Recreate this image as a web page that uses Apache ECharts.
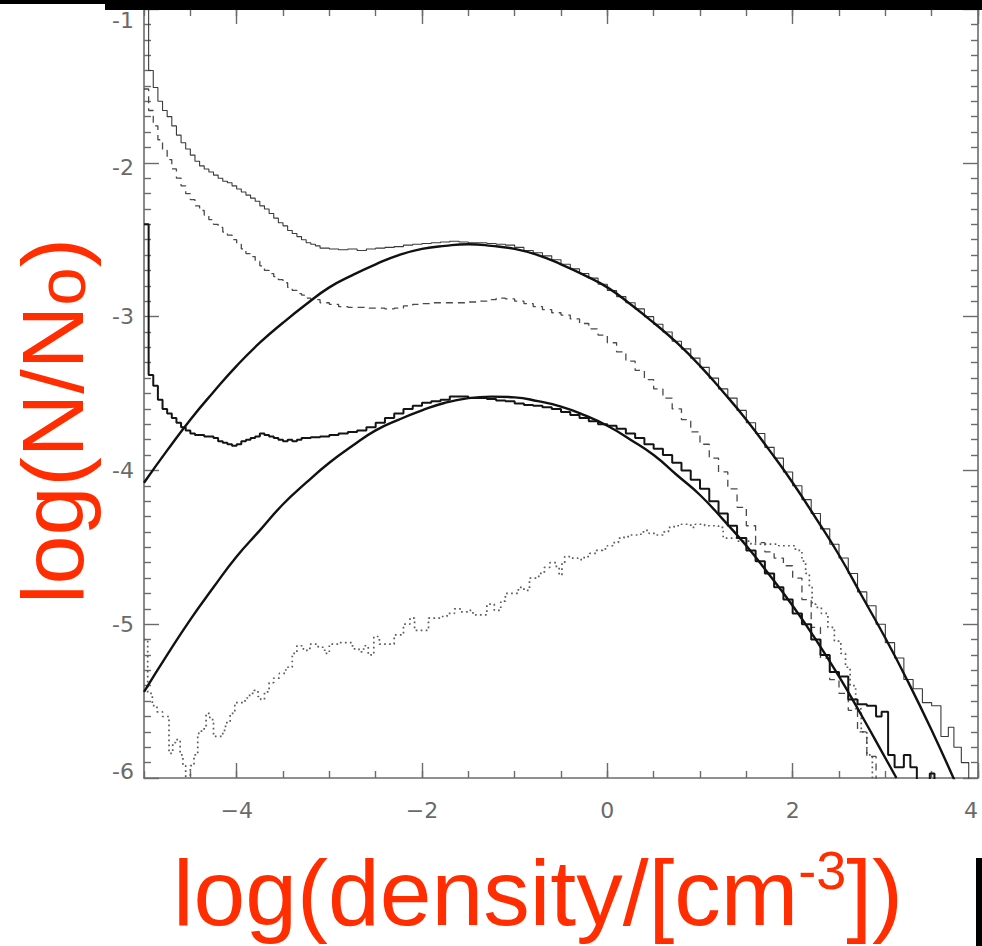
<!DOCTYPE html>
<html>
<head>
<meta charset="utf-8">
<script src="https://cdn.jsdelivr.net/npm/echarts@6/dist/echarts.min.js"></script>
<style>
  html, body { margin: 0; padding: 0; background: #ffffff; }
  #chart { width: 982px; height: 946px; }
</style>
</head>
<body>
<div id="chart"></div>
<script>
// Density PDFs in log space: bins are [left edge, log(N/N0)], last pair closes the final bin.
const totalHist = [
  [-5.00,-0.90],[-4.95,-1.40],[-4.90,-1.51],[-4.85,-1.60],[-4.80,-1.66],[-4.75,-1.70],[-4.70,-1.76],
  [-4.65,-1.82],[-4.60,-1.87],[-4.55,-1.91],[-4.50,-1.95],[-4.45,-1.99],[-4.40,-2.02],[-4.35,-2.04],
  [-4.30,-2.06],[-4.25,-2.08],[-4.20,-2.10],[-4.15,-2.12],[-4.10,-2.13],[-4.05,-2.15],[-4.00,-2.17],
  [-3.95,-2.19],[-3.90,-2.21],[-3.85,-2.23],[-3.80,-2.25],[-3.75,-2.28],[-3.70,-2.30],[-3.65,-2.33],
  [-3.60,-2.36],[-3.55,-2.39],[-3.50,-2.41],[-3.45,-2.44],[-3.40,-2.46],[-3.35,-2.48],[-3.30,-2.50],
  [-3.25,-2.52],[-3.20,-2.53],[-3.15,-2.54],[-3.10,-2.555],[-3.00,-2.56],[-2.90,-2.565],[-2.80,-2.56],
  [-2.70,-2.57],[-2.60,-2.56],[-2.50,-2.555],[-2.40,-2.55],[-2.30,-2.545],[-2.20,-2.535],[-2.10,-2.53],
  [-2.00,-2.525],[-1.90,-2.52],[-1.80,-2.515],[-1.70,-2.51],[-1.60,-2.515],[-1.50,-2.52],[-1.40,-2.52],
  [-1.30,-2.525],[-1.20,-2.53],[-1.10,-2.535],[-1.00,-2.55],[-0.90,-2.57],[-0.80,-2.585],[-0.70,-2.605],
  [-0.60,-2.63],[-0.50,-2.66],[-0.40,-2.69],[-0.30,-2.72],[-0.20,-2.75],[-0.10,-2.79],[0.00,-2.83],
  [0.10,-2.87],[0.20,-2.91],[0.30,-2.95],[0.40,-3.00],[0.50,-3.05],[0.60,-3.10],[0.70,-3.16],
  [0.80,-3.21],[0.90,-3.27],[1.00,-3.33],[1.10,-3.40],[1.20,-3.47],[1.30,-3.53],[1.40,-3.61],
  [1.50,-3.69],[1.60,-3.76],[1.70,-3.85],[1.80,-3.92],[1.90,-4.01],[2.00,-4.10],[2.10,-4.19],
  [2.20,-4.28],[2.30,-4.38],[2.40,-4.48],[2.50,-4.57],[2.60,-4.67],[2.70,-4.79],[2.80,-4.88],
  [2.90,-5.00],[3.00,-5.12],[3.10,-5.22],[3.20,-5.36],[3.30,-5.42],[3.40,-5.51],[3.50,-5.53],
  [3.60,-5.73],[3.68,-5.67],[3.74,-5.80],[3.82,-5.90],[3.90,-6.20],[4.00,-6.20]
];

const dashedHist = [
  [-5.00,-1.52],[-4.95,-1.66],[-4.90,-1.76],[-4.85,-1.85],[-4.80,-1.92],[-4.75,-1.98],[-4.70,-2.04],
  [-4.65,-2.10],[-4.60,-2.15],[-4.55,-2.20],[-4.50,-2.24],[-4.45,-2.28],[-4.40,-2.31],[-4.35,-2.34],
  [-4.30,-2.37],[-4.25,-2.40],[-4.20,-2.42],[-4.15,-2.45],[-4.10,-2.47],[-4.05,-2.50],[-4.00,-2.53],
  [-3.95,-2.56],[-3.90,-2.59],[-3.85,-2.61],[-3.80,-2.64],[-3.75,-2.67],[-3.70,-2.70],[-3.65,-2.72],
  [-3.60,-2.74],[-3.55,-2.76],[-3.50,-2.78],[-3.45,-2.81],[-3.40,-2.83],[-3.35,-2.85],[-3.30,-2.86],
  [-3.25,-2.88],[-3.20,-2.89],[-3.10,-2.91],[-3.00,-2.92],[-2.90,-2.935],[-2.80,-2.94],[-2.70,-2.94],
  [-2.60,-2.945],[-2.50,-2.945],[-2.40,-2.95],[-2.30,-2.945],[-2.20,-2.93],[-2.10,-2.92],[-2.00,-2.915],
  [-1.90,-2.91],[-1.80,-2.91],[-1.70,-2.91],[-1.60,-2.91],[-1.50,-2.905],[-1.40,-2.90],[-1.30,-2.89],
  [-1.20,-2.88],[-1.10,-2.885],[-1.00,-2.90],[-0.90,-2.915],[-0.80,-2.935],[-0.70,-2.955],[-0.60,-2.975],
  [-0.50,-2.99],[-0.40,-3.015],[-0.30,-3.045],[-0.20,-3.08],[-0.10,-3.12],[0.00,-3.17],[0.10,-3.23],
  [0.20,-3.29],[0.30,-3.35],[0.40,-3.41],[0.50,-3.47],[0.60,-3.53],[0.70,-3.60],[0.80,-3.67],
  [0.90,-3.75],[1.00,-3.83],[1.10,-3.92],[1.20,-4.01],[1.30,-4.12],[1.40,-4.24],[1.50,-4.36],
  [1.60,-4.47],[1.70,-4.53],[1.80,-4.57],[1.90,-4.62],[2.00,-4.70],[2.10,-4.84],[2.20,-5.02],
  [2.30,-5.22],[2.40,-5.36],[2.50,-5.45],[2.60,-5.56],[2.70,-5.70],[2.80,-5.86],[2.90,-6.20],[3.00,-6.20]
];

const thickHist = [
  [-5.00,-2.40],[-4.95,-3.38],[-4.90,-3.45],[-4.85,-3.54],[-4.80,-3.60],[-4.75,-3.63],[-4.70,-3.66],
  [-4.65,-3.69],[-4.60,-3.72],[-4.55,-3.74],[-4.50,-3.76],[-4.45,-3.77],[-4.40,-3.77],[-4.35,-3.78],
  [-4.30,-3.78],[-4.25,-3.79],[-4.20,-3.81],[-4.15,-3.82],[-4.10,-3.83],[-4.05,-3.84],[-4.00,-3.83],
  [-3.95,-3.81],[-3.90,-3.80],[-3.85,-3.79],[-3.80,-3.78],[-3.75,-3.76],[-3.70,-3.77],[-3.65,-3.78],
  [-3.60,-3.79],[-3.55,-3.80],[-3.50,-3.81],[-3.45,-3.80],[-3.40,-3.81],[-3.35,-3.80],[-3.30,-3.79],
  [-3.20,-3.785],[-3.10,-3.78],[-3.00,-3.77],[-2.90,-3.76],[-2.80,-3.75],[-2.70,-3.74],[-2.60,-3.72],
  [-2.50,-3.69],[-2.40,-3.66],[-2.30,-3.63],[-2.20,-3.60],[-2.10,-3.58],[-2.00,-3.56],[-1.90,-3.55],
  [-1.80,-3.54],[-1.70,-3.52],[-1.60,-3.52],[-1.50,-3.53],[-1.40,-3.53],[-1.30,-3.535],[-1.20,-3.545],
  [-1.10,-3.55],[-1.00,-3.565],[-0.90,-3.575],[-0.80,-3.58],[-0.70,-3.59],[-0.60,-3.60],[-0.50,-3.62],
  [-0.40,-3.64],[-0.30,-3.66],[-0.20,-3.68],[-0.10,-3.70],[0.00,-3.71],[0.10,-3.73],[0.20,-3.76],
  [0.30,-3.79],[0.40,-3.83],[0.50,-3.86],[0.60,-3.90],[0.70,-3.95],[0.80,-4.00],[0.90,-4.06],
  [1.00,-4.12],[1.10,-4.20],[1.20,-4.28],[1.30,-4.36],[1.40,-4.44],[1.50,-4.52],[1.60,-4.59],
  [1.70,-4.67],[1.80,-4.76],[1.90,-4.84],[2.00,-4.93],[2.10,-5.00],[2.20,-5.10],[2.30,-5.20],
  [2.40,-5.31],[2.50,-5.34],[2.60,-5.49],[2.70,-5.52],[2.80,-5.53],[2.90,-5.60],[2.96,-5.57],
  [3.03,-5.85],[3.10,-5.93],[3.20,-5.85],[3.27,-5.93],[3.34,-6.20],[3.48,-5.97],[3.53,-6.20],[3.60,-6.20]
];

const dottedHist = [
  [-5.00,-5.10],[-4.96,-5.45],[-4.91,-5.53],[-4.86,-5.57],[-4.80,-5.60],[-4.73,-5.84],[-4.69,-5.77],
  [-4.66,-5.75],[-4.61,-5.85],[-4.58,-5.92],[-4.55,-6.05],[-4.50,-5.92],[-4.46,-5.85],[-4.42,-5.71],
  [-4.38,-5.68],[-4.33,-5.58],[-4.29,-5.62],[-4.25,-5.73],[-4.15,-5.69],[-4.12,-5.64],[-4.07,-5.58],
  [-4.02,-5.51],[-3.91,-5.48],[-3.86,-5.45],[-3.81,-5.43],[-3.77,-5.47],[-3.74,-5.49],[-3.70,-5.44],
  [-3.65,-5.38],[-3.60,-5.35],[-3.54,-5.32],[-3.47,-5.28],[-3.40,-5.19],[-3.35,-5.14],[-3.28,-5.17],
  [-3.21,-5.13],[-3.12,-5.15],[-3.05,-5.19],[-3.00,-5.13],[-2.90,-5.12],[-2.80,-5.12],[-2.75,-5.16],
  [-2.68,-5.18],[-2.63,-5.14],[-2.58,-5.20],[-2.52,-5.08],[-2.46,-5.13],[-2.30,-5.07],[-2.20,-5.00],
  [-2.13,-4.96],[-2.08,-5.04],[-1.93,-4.96],[-1.80,-4.95],[-1.73,-4.93],[-1.65,-4.90],[-1.58,-4.92],
  [-1.50,-4.91],[-1.45,-4.94],[-1.30,-4.87],[-1.22,-4.91],[-1.15,-4.85],[-1.10,-4.80],[-0.96,-4.76],
  [-0.90,-4.78],[-0.84,-4.70],[-0.74,-4.67],[-0.68,-4.63],[-0.62,-4.60],[-0.55,-4.63],[-0.52,-4.68],
  [-0.49,-4.60],[-0.46,-4.56],[-0.40,-4.57],[-0.32,-4.58],[-0.25,-4.56],[-0.19,-4.54],[-0.12,-4.52],
  [-0.05,-4.51],[0.00,-4.49],[0.06,-4.47],[0.12,-4.44],[0.18,-4.43],[0.25,-4.42],[0.33,-4.415],
  [0.39,-4.39],[0.45,-4.41],[0.52,-4.42],[0.60,-4.40],[0.66,-4.37],[0.72,-4.36],[0.80,-4.35],
  [0.90,-4.37],[0.95,-4.35],[1.05,-4.36],[1.20,-4.37],[1.25,-4.44],[1.40,-4.46],[1.55,-4.48],
  [1.70,-4.48],[1.85,-4.49],[2.03,-4.52],[2.10,-4.59],[2.14,-4.67],[2.18,-4.76],[2.21,-4.87],
  [2.25,-4.89],[2.31,-4.93],[2.38,-5.02],[2.45,-5.11],[2.52,-5.19],[2.57,-5.28],[2.62,-5.40],
  [2.68,-5.55],[2.74,-5.70],[2.80,-5.85],[2.86,-6.10],[2.90,-6.10]
];

// Lognormal fits (parabolas in log-log space), sampled along the curves
const upperFit = [
  [-5,-4.08],[-4.75,-3.87],[-4.5,-3.67],[-4.25,-3.49],[-4,-3.32],[-3.75,-3.17],[-3.5,-3.04],
  [-3.25,-2.92],[-3,-2.81],[-2.75,-2.73],[-2.5,-2.66],[-2.25,-2.60],[-2,-2.56],[-1.75,-2.54],
  [-1.5,-2.53],[-1.25,-2.54],[-1,-2.56],[-0.75,-2.60],[-0.5,-2.66],[-0.25,-2.73],[0,-2.81],
  [0.25,-2.92],[0.5,-3.04],[0.75,-3.17],[1,-3.32],[1.25,-3.49],[1.5,-3.67],[1.75,-3.87],
  [2,-4.08],[2.25,-4.31],[2.5,-4.55],[2.75,-4.82],[3,-5.09],[3.25,-5.38],[3.5,-5.69],[3.75,-6.02]
];
const lowerFit = [
  [-5,-5.44],[-4.75,-5.20],[-4.5,-4.97],[-4.25,-4.76],[-4,-4.56],[-3.75,-4.39],[-3.5,-4.22],
  [-3.25,-4.08],[-3,-3.95],[-2.75,-3.84],[-2.5,-3.74],[-2.25,-3.67],[-2,-3.61],[-1.75,-3.56],
  [-1.5,-3.53],[-1.25,-3.52],[-1,-3.525],[-0.75,-3.55],[-0.5,-3.585],[-0.25,-3.64],[0,-3.71],
  [0.25,-3.80],[0.5,-3.90],[0.75,-4.03],[1,-4.16],[1.25,-4.32],[1.5,-4.49],[1.75,-4.68],
  [2,-4.88],[2.25,-5.10],[2.5,-5.34],[2.75,-5.60],[3,-5.87],[3.12,-6.0]
];

const xMajorTicks = [-4, -2, 0, 2, 4];
const xTickLabels = ['\u22124', '\u22122', '0', '2', '4'];
const yMajorTicks = [-6, -5, -4, -3, -2, -1];
const yTickLabels = ['-6', '-5', '-4', '-3', '-2', '-1'];

const axisGrey = '#6b6b6b';
const labelGrey = '#6a6a6a';
const titleRed = '#ff2d00';
const tickFont = '"DejaVu Sans", "Liberation Sans", sans-serif';
const titleFont = '"Liberation Sans", Arial, sans-serif';
const tickSize = 22;

function xAxesAt(position) {
  return [
    {
      type: 'value', min: -5, max: 4, interval: 0.5, position,
      axisLine: { show: true, onZero: false, lineStyle: { color: axisGrey, width: 1.6 } },
      axisTick: { show: true, inside: true, length: 7, lineStyle: { color: axisGrey, width: 1.4 } },
      axisLabel: { show: false },
      splitLine: { show: false }
    },
    {
      type: 'value', min: -5, max: 4, interval: 0.5, position,
      axisLine: { show: false, onZero: false },
      axisTick: { show: true, inside: true, length: 15, customValues: xMajorTicks,
                  lineStyle: { color: axisGrey, width: 1.4 } },
      axisLabel: {
        show: position === 'bottom', customValues: xMajorTicks, margin: 21,
        fontSize: tickSize, fontFamily: tickFont, color: labelGrey, alignMaxLabel: 'right',
        formatter: v => xTickLabels[xMajorTicks.indexOf(Math.round(v))]
      },
      splitLine: { show: false }
    }
  ];
}

function yAxisAt(position) {
  const rich = (pad) => ({ fontSize: tickSize, fontFamily: tickFont, color: labelGrey, padding: pad });
  return {
    type: 'value', min: -6, max: -1, interval: 1, position,
    axisLine: { show: true, onZero: false, lineStyle: { color: axisGrey, width: 1.6 } },
    axisTick: { show: true, inside: true, length: 15, lineStyle: { color: axisGrey, width: 1.4 } },
    minorTick: { show: true, splitNumber: 10, length: 7, lineStyle: { color: axisGrey, width: 1.4 } },
    axisLabel: {
      show: position === 'left', margin: 10, fontSize: tickSize, fontFamily: tickFont, color: labelGrey,
      formatter: v => {
        const t = yTickLabels[yMajorTicks.indexOf(Math.round(v))];
        if (v === -1) return '{lo|' + t + '}';
        if (v === -6) return '{hi|' + t + '}';
        if (v === -2) return '{dn|' + t + '}';
        return t;
      },
      rich: { lo: rich([22, 0, 0, 0]), hi: rich([0, 0, 14, 0]), dn: rich([10, 0, 0, 0]) }
    },
    splitLine: { show: false },
    minorSplitLine: { show: false }
  };
}

function histSeries(data, style, z) {
  return {
    type: 'line', xAxisIndex: 0, yAxisIndex: 0, data, step: 'end',
    showSymbol: false, symbol: 'none', clip: true, z,
    lineStyle: style, emphasis: { disabled: true }
  };
}

function fitSeries(data) {
  return {
    type: 'line', xAxisIndex: 0, yAxisIndex: 0, data, smooth: true,
    showSymbol: false, symbol: 'none', clip: true, z: 6,
    lineStyle: { color: '#111111', width: 2.4 }, emphasis: { disabled: true }
  };
}

const chart = echarts.init(document.getElementById('chart'), null, { renderer: 'svg' });

chart.setOption({
  animation: false,
  backgroundColor: '#ffffff',
  grid: { left: 144, right: 4, top: 9, bottom: 168, containLabel: false, outerBoundsMode: 'none' },
  xAxis: [...xAxesAt('bottom'), ...xAxesAt('top')],
  yAxis: [yAxisAt('left'), yAxisAt('right')],
  series: [
    histSeries(dottedHist, { color: '#5a5a5a', width: 1.7, type: [1.7, 3.3] }, 2),
    histSeries(dashedHist, { color: '#4a4a4a', width: 1.3, type: [7, 5] }, 3),
    histSeries(totalHist, { color: '#3a3a3a', width: 1.1 }, 4),
    histSeries(thickHist, { color: '#141414', width: 2.0 }, 5),
    fitSeries(upperFit),
    fitSeries(lowerFit)
  ],
  graphic: [
    { type: 'rect', shape: { x: 105, y: 0, width: 877, height: 10 }, style: { fill: '#000' }, z: 100 },
    { type: 'rect', shape: { x: 0, y: 0, width: 105, height: 4 }, style: { fill: '#000' }, z: 100 },
    { type: 'rect', shape: { x: 976, y: 858, width: 6, height: 88 }, style: { fill: '#000' }, z: 100 },
    {
      type: 'text', x: 538, y: 893, z: 100,
      style: {
        text: '{a|log(density/[cm}{b|-3}{a|])}',
        fill: titleRed, align: 'center', verticalAlign: 'middle',
        textAlign: 'center', textVerticalAlign: 'middle',
        rich: {
          a: { fontSize: 93, fontFamily: titleFont, fill: titleRed, lineHeight: 100 },
          b: { fontSize: 54, fontFamily: titleFont, fill: titleRed, verticalAlign: 'top', lineHeight: 62 }
        }
      }
    },
    {
      type: 'text', x: 49, y: 421, rotation: Math.PI / 2, z: 100,
      style: {
        text: '{a|log(N/N}{s|o}{a|)}',
        fill: titleRed, align: 'center', verticalAlign: 'middle',
        textAlign: 'center', textVerticalAlign: 'middle',
        rich: {
          a: { fontSize: 88, fontFamily: titleFont, fill: titleRed, lineHeight: 94, verticalAlign: 'bottom' },
          s: { fontSize: 69, fontFamily: titleFont, fill: titleRed, lineHeight: 74, verticalAlign: 'bottom' }
        }
      }
    }
  ]
});
</script>
</body>
</html>
